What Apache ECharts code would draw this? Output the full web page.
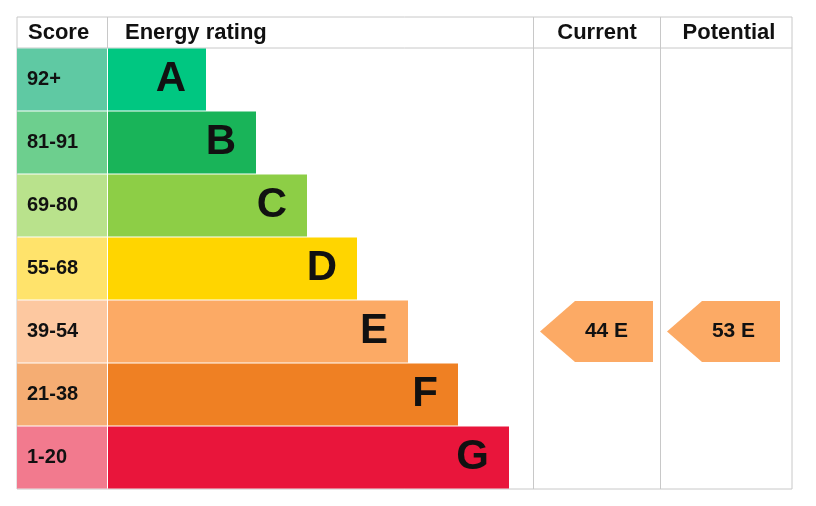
<!DOCTYPE html>
<html><head><meta charset="utf-8">
<script src="https://cdn.jsdelivr.net/npm/echarts@6/dist/echarts.min.js"></script>
<style>html,body{margin:0;padding:0;background:#fff}#c{width:816px;height:506px}</style>
</head><body><div id="c"></div>
<script>
const bands = ['A','B','C','D','E','F','G'];
const scores = ['92+','81-91','69-80','55-68','39-54','21-38','1-20'];
const barLengths = [98,148,199,249,300,350,401];
const bandColors = ['#00c781','#19b459','#8dce46','#ffd500','#fcaa65','#ef8023','#e9153b'];
const scoreColors = ['#5fc9a3','#6dcf8e','#b9e28c','#ffe36b','#fdc8a0','#f5ad73','#f27a8e'];
const current = {value:44, band:'E'};
const potential = {value:53, band:'E'};
const font = 'Liberation Sans, Arial, sans-serif';
const chart = echarts.init(document.getElementById('c'));
const T=48,H=441;
function grid(l,w){return {left:l,top:T,width:w,height:H};}
function yAx(i){return {type:'category',data:bands,inverse:true,gridIndex:i,show:false};}
function xAx(i,max){return {type:'value',min:0,max:max,gridIndex:i,show:false};}
function arrow(info, gi){
  const idx = bands.indexOf(info.band);
  return {type:'custom',xAxisIndex:gi,yAxisIndex:gi,data:[[idx,info.value]],
    renderItem:function(params,api){
      const c = api.coord([0,api.value(0)]);
      const s = api.size([0,1]);
      const cy=c[1], h=s[1]-2;
      const x0=c[0]+7, x1=c[0]+120, xb=x0+35;
      return {type:'group',children:[
        {type:'polygon',shape:{points:[[x0,cy],[xb,cy-h/2],[x1,cy-h/2],[x1,cy+h/2],[xb,cy+h/2]]},style:{fill:bandColors[idx]}},
        {type:'text',style:{text:api.value(1)+' '+info.band,x:(x0+x1)/2+10,y:cy,align:'center',verticalAlign:'middle',font:'bold 21px '+font,fill:'#111'}}
      ]};
    }};
}
const lineC='#c8c8c8';
function ln(x1,y1,x2,y2){return {type:'line',shape:{x1,y1,x2,y2},style:{stroke:lineC,lineWidth:1}};}
function hdr(t,x,align){return {type:'text',style:{text:t,x:x,y:33,align:align,verticalAlign:'middle',font:'bold 22px '+font,fill:'#111'}};}
chart.setOption({
  animation:false,
  grid:[grid(17,90),grid(108,425),grid(533,127),grid(660,132)],
  xAxis:[xAx(0,1),xAx(1,425),xAx(2,127),xAx(3,132)],
  yAxis:[yAx(0),yAx(1),yAx(2),yAx(3)],
  series:[
    {type:'bar',xAxisIndex:0,yAxisIndex:0,barWidth:62,data:scores.map((s,i)=>({value:1,itemStyle:{color:scoreColors[i]}})),
     label:{show:true,position:'insideLeft',offset:[0,0],distance:10,formatter:p=>scores[p.dataIndex],font:'bold 20px '+font,fontWeight:'bold',fontSize:20,fontFamily:font,color:'#111'}},
    {type:'bar',xAxisIndex:1,yAxisIndex:1,barWidth:62,data:barLengths.map((v,i)=>({value:v,itemStyle:{color:bandColors[i]}})),
     label:{show:true,position:'insideRight',distance:20,formatter:p=>bands[p.dataIndex],fontWeight:'bold',fontSize:42,fontFamily:font,color:'#111'}},
    arrow(current,2),arrow(potential,3)
  ],
  graphic:[
    {type:'rect',shape:{x:17,y:17,width:775,height:472},style:{fill:'none',stroke:lineC,lineWidth:1}},
    ln(17,48,792,48),ln(107.5,17,107.5,48),ln(533.5,17,533.5,489),ln(660.5,17,660.5,489),
    hdr('Score',28,'left'),hdr('Energy rating',125,'left'),hdr('Current',597,'center'),hdr('Potential',729,'center')
  ]
});
</script></body></html>
